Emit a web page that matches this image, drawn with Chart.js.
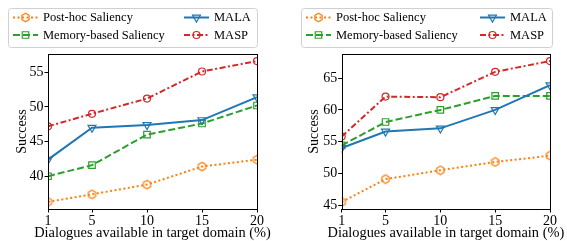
<!DOCTYPE html>
<html>
<head>
<meta charset="utf-8">
<script src="https://cdn.jsdelivr.net/npm/chart.js@4/dist/chart.umd.min.js"></script>
<style>
  body { margin: 0; background: #fff; }
  #wrap { position: relative; width: 567px; height: 241px; }
  canvas { position: absolute; top: 0; }
</style>
</head>
<body>
<div id="wrap">
  <canvas id="leftChart" width="283" height="241" style="left:0"></canvas>
  <canvas id="rightChart" width="284" height="241" style="left:283px"></canvas>
</div>
<script>
// x positions (% of dialogues)
const percents = [1, 5, 10, 15, 20];
const seriesNames = ['Post-hoc Saliency', 'Memory-based Saliency', 'MALA', 'MASP'];
const xTitle = 'Dialogues available in target domain (%)';

// left panel
const leftPostHoc = [36.3, 37.4, 38.8, 41.4, 42.4];
const leftMemory = [40.0, 41.6, 46.0, 47.6, 50.2];
const leftMala = [42.4, 47.0, 47.4, 48.1, 51.4];
const leftMasp = [47.2, 49.0, 51.2, 55.1, 56.6];
const leftYTicks = [40, 45, 50, 55];

// right panel
const rightPostHoc = [45.5, 49.1, 50.5, 51.8, 52.8];
const rightMemory = [54.4, 58.1, 60.0, 62.2, 62.2];
const rightMala = [54.0, 56.6, 57.1, 60.0, 63.9];
const rightMasp = [55.8, 62.1, 62.0, 66.0, 67.7];
const rightYTicks = [45, 50, 55, 60, 65];

const FONT = 'Liberation Serif';
const colors = ['#ff7f0e', '#2ca02c', '#1f77b4', '#d62728'];

// hexagon marker (matplotlib "h") as a small canvas image
function hexMarker(color) {
  const c = document.createElement('canvas');
  c.width = 11; c.height = 11;
  const g = c.getContext('2d');
  g.strokeStyle = color;
  g.lineWidth = 1.2;
  g.beginPath();
  for (let i = 0; i < 6; i++) {
    const a = Math.PI / 2 + i * Math.PI / 3;
    const px = 5.5 + 4.2 * Math.cos(a), py = 5.5 - 4.2 * Math.sin(a);
    if (i === 0) g.moveTo(px, py); else g.lineTo(px, py);
  }
  g.closePath();
  g.stroke();
  return c;
}
const hex = hexMarker(colors[0]);

const styles = [
  { dash: [2, 2.5], pointStyle: hex, radius: 5, rotation: 0 },
  { dash: [7, 3], pointStyle: 'rect', radius: 4.6, rotation: 0 },
  { dash: [], pointStyle: 'triangle', radius: 4.6, rotation: 180 },
  { dash: [6, 2.5, 2, 2.5], pointStyle: 'circle', radius: 3.5, rotation: 0 }
];

function makeDatasets(values) {
  return values.map((vals, i) => ({
    label: seriesNames[i],
    data: vals.map((v, j) => ({ x: percents[j], y: v })),
    borderColor: colors[i],
    backgroundColor: 'rgba(0,0,0,0)',
    borderWidth: 2,
    borderDash: styles[i].dash,
    pointStyle: styles[i].pointStyle,
    pointRadius: styles[i].radius,
    pointRotation: styles[i].rotation,
    pointBorderWidth: 1.2,
    pointBorderColor: colors[i],
    pointBackgroundColor: 'rgba(0,0,0,0)',
    tension: 0,
    order: 4 - i
  }));
}

// frame around the plot area + x title (drawn here so it is not squeezed to the axis width)
const framePlugin = {
  id: 'frame',
  afterDraw(chart) {
    const { ctx, chartArea: a } = chart;
    ctx.save();
    ctx.strokeStyle = '#000';
    ctx.lineWidth = 1;
    ctx.strokeRect(Math.round(a.left) + 0.5, Math.round(a.top) + 0.5,
      Math.round(a.right - a.left), Math.round(a.bottom - a.top));
    ctx.fillStyle = '#000';
    ctx.font = '14.4px "' + FONT + '"';
    ctx.textAlign = 'center';
    ctx.textBaseline = 'alphabetic';
    ctx.fillText(xTitle, (a.left + a.right) / 2, 236.5);
    ctx.restore();
  }
};

// two-column legend box above the plot
const legendBoxPlugin = {
  id: 'legendBox',
  afterDraw(chart, args, opts) {
    const ctx = chart.ctx;
    ctx.save();
    ctx.fillStyle = '#fff';
    ctx.strokeStyle = '#d0d0d0';
    ctx.lineWidth = 1;
    ctx.beginPath();
    ctx.roundRect(opts.x + 0.5, opts.y + 0.5, opts.w, opts.h, 3);
    ctx.fill();
    ctx.stroke();
    const slots = [[0, 0], [0, 1], [1, 0], [1, 1]]; // [col,row] per series
    chart.data.datasets.forEach((ds, i) => {
      const [col, row] = slots[i];
      const x0 = opts.cols[col];
      const y = opts.rows[row];
      ctx.strokeStyle = ds.borderColor;
      ctx.lineWidth = 2;
      ctx.setLineDash(ds.borderDash);
      ctx.beginPath();
      ctx.moveTo(x0, y);
      ctx.lineTo(x0 + opts.lineLen, y);
      ctx.stroke();
      ctx.setLineDash([]);
      ctx.fillStyle = 'rgba(0,0,0,0)';
      ctx.lineWidth = ds.pointBorderWidth;
      Chart.helpers.drawPoint(ctx, {
        pointStyle: ds.pointStyle, rotation: ds.pointRotation,
        radius: ds.pointRadius, borderWidth: ds.pointBorderWidth
      }, x0 + opts.lineLen / 2, y);
      ctx.fillStyle = '#000';
      ctx.font = '12.5px "' + FONT + '"';
      ctx.textBaseline = 'middle';
      ctx.fillText(ds.label, x0 + opts.lineLen + opts.gap, y + 0.5);
    });
    ctx.restore();
  }
};

function makeChart(id, values, yMin, yMax, yTicks, geom) {
  return new Chart(document.getElementById(id), {
    type: 'line',
    data: { datasets: makeDatasets(values) },
    options: {
      responsive: false,
      animation: false,
      layout: { padding: { top: 54, right: geom.right, left: 0, bottom: 0 } },
      plugins: {
        legend: { display: false },
        tooltip: { enabled: false },
        legendBox: geom.legend
      },
      scales: {
        x: {
          type: 'linear', min: 1, max: 20,
          afterBuildTicks: s => { s.ticks = percents.map(v => ({ value: v })); },
          afterFit: s => { s.height = 32; },
          grid: { drawOnChartArea: false, drawTicks: true, tickLength: 3.5, color: '#000' },
          border: { display: false },
          ticks: { color: '#000', font: { family: FONT, size: 14 }, padding: 0, maxRotation: 0 }
        },
        y: {
          min: yMin, max: yMax,
          afterBuildTicks: s => { s.ticks = yTicks.map(v => ({ value: v })); },
          afterFit: s => { s.width = geom.yWidth; },
          grid: { drawOnChartArea: false, drawTicks: true, tickLength: 3.5, color: '#000' },
          border: { display: false },
          ticks: { color: '#000', font: { family: FONT, size: 14 }, padding: 1 },
          title: { display: true, text: 'Success', color: '#000',
                   font: { family: FONT, size: 14 }, padding: { top: geom.titlePad, bottom: 0 } }
        }
      }
    },
    plugins: [framePlugin, legendBoxPlugin]
  });
}

makeChart('leftChart', [leftPostHoc, leftMemory, leftMala, leftMasp], 35.28, 57.62, leftYTicks, {
  right: 26, yWidth: 48, titlePad: 13.6,
  legend: { x: 8, y: 8, w: 249, h: 39, cols: [13, 184], rows: [17.5, 35], lineLen: 25, gap: 5 }
});

makeChart('rightChart', [rightPostHoc, rightMemory, rightMala, rightMasp], 44.39, 68.81, rightYTicks, {
  right: 17, yWidth: 58.7, titlePad: 23.3,
  legend: { x: 18, y: 8, w: 251, h: 39, cols: [23, 197], rows: [17.5, 35], lineLen: 25, gap: 5 }
});
</script>
</body>
</html>
